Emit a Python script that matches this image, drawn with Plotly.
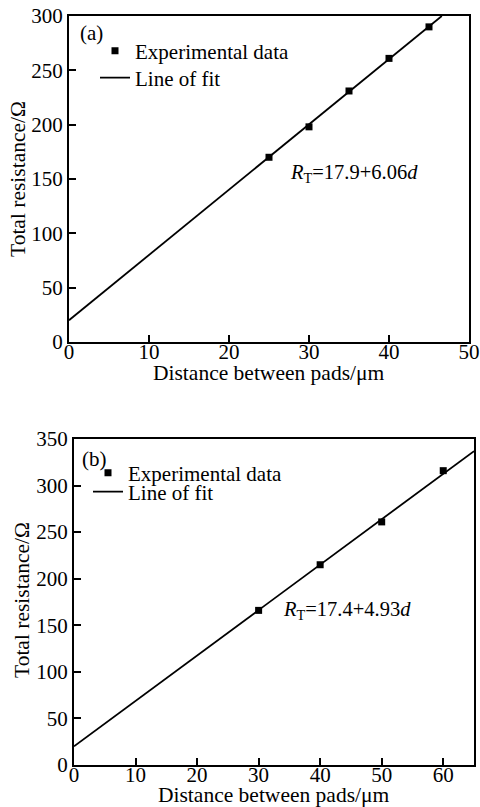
import plotly.graph_objects as go

# ---- Panel (a) data ----
a_dist = [25, 30, 35, 40, 45]
a_res = [170, 198, 231, 261, 290]
a_fit_x = [0, 46.6]
a_fit_y = [20, 300]
a_xticks = [0, 10, 20, 30, 40, 50]
a_yticks = [0, 50, 100, 150, 200, 250, 300]

# ---- Panel (b) data ----
b_dist = [30, 40, 50, 60]
b_res = [166, 215, 261, 316]
b_fit_x = [0, 65]
b_fit_y = [20, 337]
b_xticks = [0, 10, 20, 30, 40, 50, 60]
b_yticks = [0, 50, 100, 150, 200, 250, 300, 350]

W, H = 480, 807
FONT = "Liberation Serif"
FS = 21

def px(x):
    return x / W

def py(y):
    return 1 - y / H

fig = go.Figure()

fig.add_trace(go.Scatter(x=a_dist, y=a_res, mode="markers", name="Experimental data",
                         marker=dict(symbol="square", size=7, color="black"),
                         xaxis="x", yaxis="y", legend="legend"))
fig.add_trace(go.Scatter(x=a_fit_x, y=a_fit_y, mode="lines", name="Line of fit",
                         line=dict(color="black", width=1.8),
                         xaxis="x", yaxis="y", legend="legend2"))
fig.add_trace(go.Scatter(x=b_dist, y=b_res, mode="markers", name="Experimental data",
                         marker=dict(symbol="square", size=7, color="black"),
                         xaxis="x2", yaxis="y2", legend="legend3"))
fig.add_trace(go.Scatter(x=b_fit_x, y=b_fit_y, mode="lines", name="Line of fit",
                         line=dict(color="black", width=1.8),
                         xaxis="x2", yaxis="y2", legend="legend4"))

axis_common = dict(showline=True, linecolor="black", linewidth=2, mirror=True,
                   ticks="inside", ticklen=7, tickwidth=2, tickcolor="black",
                   showgrid=False, zeroline=False, automargin=False,
                   tickfont=dict(family=FONT, size=FS, color="black"))

def legend_at(x, y):
    return dict(x=px(x), y=py(y), xanchor="left", yanchor="middle",
                bgcolor="rgba(0,0,0,0)", borderwidth=0,
                font=dict(family=FONT, size=FS, color="black"))

fig.update_layout(
    width=W, height=H, autosize=False,
    margin=dict(l=0, r=0, t=0, b=0, pad=0, autoexpand=False),
    paper_bgcolor="white", plot_bgcolor="white",
    font=dict(family=FONT, size=FS, color="black"),
    showlegend=True,
    xaxis=dict(domain=[px(69), px(469)], range=[0, 50], tickvals=a_xticks,
               anchor="y", ticklabelstandoff=-10, **axis_common),
    yaxis=dict(domain=[py(342), py(16)], range=[0, 300], tickvals=a_yticks,
               anchor="x", **axis_common),
    xaxis2=dict(domain=[px(74), px(474)], range=[0, 65], tickvals=b_xticks,
                anchor="y2", ticklabelstandoff=-10, **axis_common),
    yaxis2=dict(domain=[py(765), py(439)], range=[0, 350], tickvals=b_yticks,
                anchor="x2", **axis_common),
    legend=legend_at(95, 51),
    legend2=legend_at(95, 78),
    legend3=legend_at(88, 473),
    legend4=legend_at(88, 492),
)

annos = [
    dict(text="(a)", x=px(78), y=py(33), xanchor="left", yanchor="middle"),
    dict(text="(b)", x=px(80), y=py(459), xanchor="left", yanchor="middle"),
    dict(text="Total resistance/Ω", x=px(18), y=py(179), textangle=-90,
         xanchor="center", yanchor="middle", size=21.5),
    dict(text="Distance between pads/μm", x=px(269), y=py(373),
         xanchor="center", yanchor="middle", size=21.5),
    dict(text="Total resistance/Ω", x=px(22), y=py(600), textangle=-90,
         xanchor="center", yanchor="middle", size=21.5),
    dict(text="Distance between pads/μm", x=px(274), y=py(795),
         xanchor="center", yanchor="middle", size=21.5),
]
for a in annos:
    size = a.pop("size", FS)
    a.update(xref="paper", yref="paper", showarrow=False,
             font=dict(family=FONT, size=size, color="black"))
    fig.add_annotation(**a)

fig.add_annotation(text="<i>R</i><sub>T</sub>=17.9+6.06<i>d</i>", x=35.6, y=155,
                   xref="x", yref="y", showarrow=False, xanchor="center", yanchor="middle",
                   font=dict(family=FONT, size=20.5, color="black"))
fig.add_annotation(text="<i>R</i><sub>T</sub>=17.4+4.93<i>d</i>", x=44.3, y=166,
                   xref="x2", yref="y2", showarrow=False, xanchor="center", yanchor="middle",
                   font=dict(family=FONT, size=20.5, color="black"))

fig.write_html("out.html", config={"displayModeBar": False},
               post_script="document.body.style.margin='0';document.body.style.overflow='hidden';")
